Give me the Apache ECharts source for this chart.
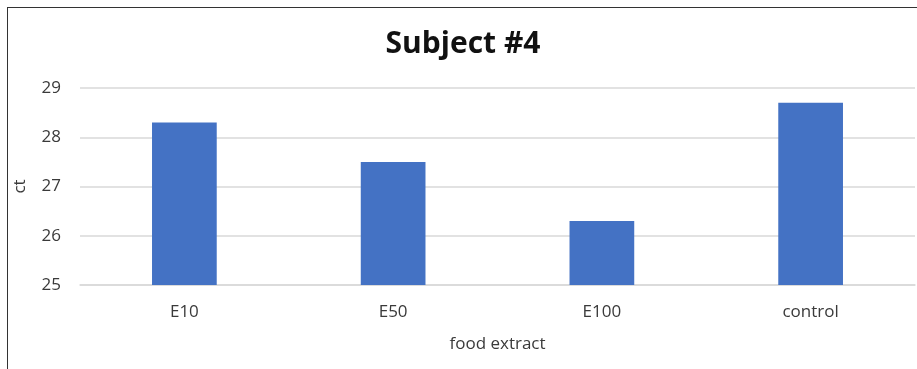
<!DOCTYPE html>
<html>
<head>
<meta charset="utf-8">
<script src="https://cdn.jsdelivr.net/npm/echarts@6/dist/echarts.min.js"></script>
<style>
  html, body { margin: 0; padding: 0; background: #fff; }
  #wrap { position: absolute; left: 0; top: 0; width: 917px; height: 369px; overflow: hidden; }
  #frame { position: absolute; left: 7px; top: 7px; width: 920px; height: 380px; border: 1.5px solid #333; box-sizing: border-box; }
  #chart { position: absolute; left: 0; top: 0; width: 917px; height: 369px; }
</style>
</head>
<body>
<div id="wrap">
  <div id="frame"></div>
  <div id="chart"></div>
</div>
<script>
const categories = ["E10", "E50", "E100", "control"];
const ctValues = [28.3, 27.5, 26.3, 28.7];
const yTicks = { min: 25, max: 29, interval: 1 };

const chart = echarts.init(document.getElementById("chart"));
const textColor = "#3a3a3a";
const font = "Open Sans";

chart.setOption({
  animation: false,
  title: {
    text: "Subject #4",
    left: 458,
    textAlign: "center",
    top: 24,
    textStyle: { fontFamily: font, fontSize: 30, fontWeight: "bold", color: "#111" },
  },
  grid: { left: 80, right: 2, top: 88, bottom: 84, containLabel: false, outerBoundsMode: "none" },
  xAxis: {
    type: "category",
    data: categories,
    name: "food extract",
    nameLocation: "middle",
    nameGap: 51,
    nameTextStyle: { fontFamily: font, fontSize: 17, color: textColor },
    axisLine: { lineStyle: { color: "#d9d9d9", width: 1.5 } },
    axisTick: { show: false },
    axisLabel: { fontFamily: font, fontSize: 17, color: textColor, margin: 19 },
  },
  yAxis: {
    type: "value",
    min: yTicks.min,
    max: yTicks.max,
    interval: yTicks.interval,
    name: "ct",
    nameLocation: "middle",
    nameGap: 51,
    nameRotate: 90,
    nameTextStyle: { fontFamily: font, fontSize: 17, color: textColor },
    axisLine: { show: false },
    axisTick: { show: false },
    axisLabel: { fontFamily: font, fontSize: 17, color: textColor, margin: 19 },
    splitLine: { lineStyle: { color: "#d9d9d9", width: 1.5 } },
  },
  series: [
    {
      type: "bar",
      data: ctValues,
      barWidth: "31%",
      itemStyle: { color: "#4472C4" },
    },
  ],
});
</script>
</body>
</html>
